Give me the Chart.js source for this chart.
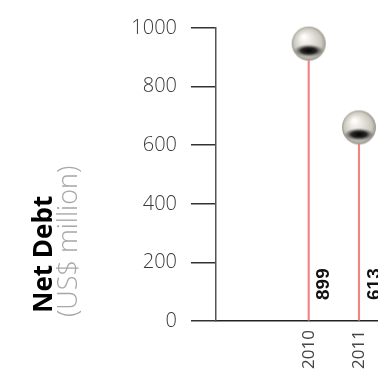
<!DOCTYPE html>
<html>
<head>
<meta charset="utf-8">
<script src="https://cdn.jsdelivr.net/npm/chart.js@4.4.0/dist/chart.umd.min.js"></script>
<style>
  html, body { margin: 0; padding: 0; background: #fff; }
  #wrap { width: 378px; height: 369px; position: relative; }
</style>
</head>
<body>
<div id="wrap"><canvas id="grafico" width="378" height="369"></canvas></div>
<script>
const years = [2010, 2011];
const netDebt = [899, 613];
const yTicks = [0, 200, 400, 600, 800, 1000];
const titleMain = 'Net Debt';
const titleSub = '(US$ million)';

// bola plateada (la esfera queda encima del valor)
function makeBall() {
  const r = 17;
  const c = document.createElement('canvas');
  c.width = 36; c.height = 64;
  const g = c.getContext('2d');
  const cx = 18, cy = 32 - 14;
  g.save();
  g.beginPath(); g.arc(cx, cy, r, 0, Math.PI * 2); g.clip();
  const grad = g.createRadialGradient(cx - 5, cy - 7, 1, cx, cy, r);
  grad.addColorStop(0, '#ffffff');
  grad.addColorStop(0.35, '#e8e6df');
  grad.addColorStop(0.8, '#cac8bf');
  grad.addColorStop(1, '#9a988f');
  g.fillStyle = grad;
  g.fillRect(0, 0, c.width, c.height);
  // franja oscura
  g.save();
  g.translate(cx, cy + 7);
  g.scale(1, 0.42);
  const dk = g.createRadialGradient(0, 0, 0, 0, 0, 15);
  dk.addColorStop(0, 'rgba(0,0,0,1)');
  dk.addColorStop(0.5, 'rgba(10,10,10,0.85)');
  dk.addColorStop(1, 'rgba(70,70,70,0)');
  g.fillStyle = dk;
  g.beginPath(); g.arc(0, 0, 15, 0, Math.PI * 2); g.fill();
  g.restore();
  g.restore();
  return c;
}

const ball = makeBall();

const valueLabels = {
  id: 'valueLabels',
  afterDatasetsDraw(chart) {
    const ctx = chart.ctx;
    const meta = chart.getDatasetMeta(0);
    const bottom = chart.chartArea.bottom;
    ctx.save();
    ctx.font = 'bold 19px "Liberation Sans", Arial, sans-serif';
    ctx.fillStyle = '#111';
    ctx.textAlign = 'left';
    ctx.textBaseline = 'middle';
    meta.data.forEach((bar, i) => {
      ctx.save();
      ctx.translate(bar.x + 15.5, bottom - 21);
      ctx.rotate(-Math.PI / 2);
      ctx.fillText(String(netDebt[i]), 0, 0);
      ctx.restore();
    });
    ctx.restore();
  }
};

const axisTitle = {
  id: 'axisTitle',
  afterDraw(chart) {
    const ctx = chart.ctx;
    ctx.save();
    ctx.textAlign = 'left';
    ctx.textBaseline = 'alphabetic';
    ctx.translate(51.5, 312.7);
    ctx.rotate(-Math.PI / 2);
    ctx.font = 'bold 26px "Open Sans", sans-serif';
    ctx.fillStyle = '#000';
    ctx.fillText(titleMain, 0, 0);
    ctx.restore();

    ctx.save();
    ctx.textAlign = 'left';
    ctx.textBaseline = 'alphabetic';
    ctx.translate(76.5, 317);
    ctx.rotate(-Math.PI / 2);
    ctx.font = '300 27px "Open Sans", sans-serif';
    ctx.fillStyle = '#a8a8a8';
    ctx.fillText(titleSub, 0, 0);
    ctx.restore();
  }
};

new Chart(document.getElementById('grafico'), {
  type: 'bar',
  data: {
    datasets: [
      {
        type: 'bar',
        data: years.map((y, i) => ({ x: y, y: netDebt[i] })),
        backgroundColor: '#ef8585',
        barThickness: 1.5,
        order: 2
      },
      {
        type: 'scatter',
        data: years.map((y, i) => ({ x: y, y: netDebt[i] })),
        pointStyle: ball,
        pointRadius: 17,
        clip: false,
        order: 1
      }
    ]
  },
  options: {
    responsive: false,
    animation: false,
    layout: { autoPadding: false, padding: { top: 28, left: 0, right: 0, bottom: 0 } },
    plugins: { legend: { display: false }, tooltip: { enabled: false } },
    scales: {
      x: {
        type: 'linear',
        offset: false,
        min: 2008.157,
        max: 2011.378,
        afterBuildTicks: s => { s.ticks = years.map(v => ({ value: v })); },
        afterFit: s => { s.height = 48; s.paddingLeft = 0; s.paddingRight = 0; },
        grid: { display: false, drawTicks: false, offset: false },
        border: { display: true, color: '#222', width: 1.5 },
        ticks: {
          minRotation: 90, maxRotation: 90, padding: 9,
          color: '#444',
          font: { family: '"Open Sans", sans-serif', size: 17 },
          callback: v => String(v)
        }
      },
      y: {
        min: 0,
        max: 1000,
        afterBuildTicks: s => { s.ticks = yTicks.map(v => ({ value: v })); },
        afterFit: s => { s.width = 216; },
        grid: { drawOnChartArea: false, drawTicks: true, tickLength: 25, color: '#333', lineWidth: 1.5 },
        border: { display: true, color: '#555', width: 1.5 },
        ticks: {
          padding: 14,
          color: '#3a3a3a',
          font: { family: '"Open Sans", sans-serif', size: 20, weight: 300 },
          callback: v => String(v)
        }
      }
    }
  },
  plugins: [valueLabels, axisTitle]
});
</script>
</body>
</html>
